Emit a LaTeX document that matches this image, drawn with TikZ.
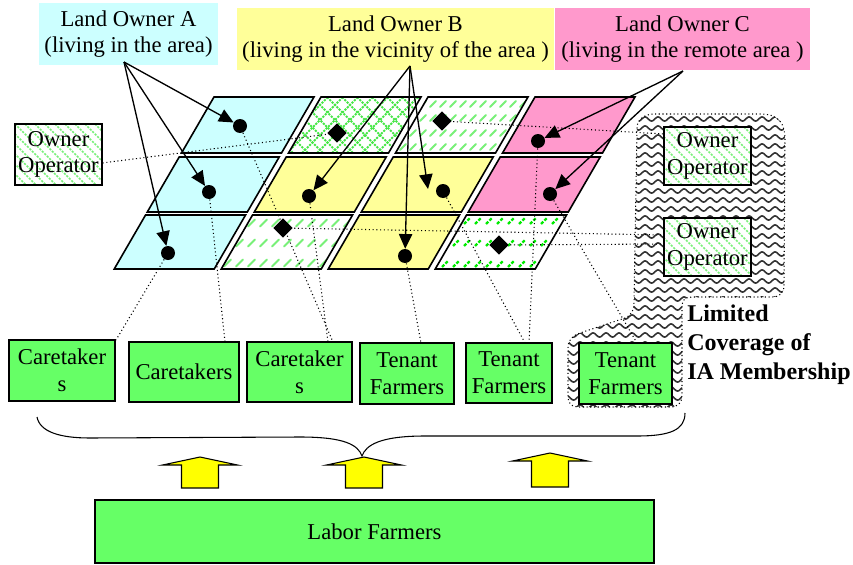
\documentclass[tikz,border=0pt]{standalone}
\usepackage{fontspec}
\setmainfont{Liberation Serif}
\usetikzlibrary{arrows.meta,decorations.pathmorphing,shapes.geometric}
\definecolor{cyanc}{HTML}{CCFFFF}
\definecolor{yelc}{HTML}{FFFF99}
\definecolor{pinkc}{HTML}{FF99CC}
\definecolor{greenc}{HTML}{66FF66}
\definecolor{arrowy}{HTML}{FFFF00}
\definecolor{hatchg}{RGB}{70,230,70}
\definecolor{hatchl}{RGB}{120,240,120}
\definecolor{hatchb}{RGB}{0,235,0}
\def\blobpath{(655,114) -- (760,114) .. controls (778,114) and (785,122) .. (785,140) -- (784,285) .. controls (784,293) and (780,297) .. (772,297) -- (692,297) .. controls (685,297) and (682,300) .. (682,307) -- (682,395) .. controls (682,403) and (678,407) .. (670,407) -- (578,407) .. controls (571,407) and (568,403) .. (568,396) -- (568,348) .. controls (568,340) and (572,336) .. (580,333) -- (625,318) .. controls (632,315) and (634,310) .. (634,302) -- (637,128) .. controls (637,119) and (645,114) .. (655,114) -- cycle}
\begin{document}
\begin{tikzpicture}[x=0.75pt,y=-0.75pt,
  ownlab/.style={inner sep=0pt, font=\fontsize{17}{20}\selectfont, align=center},
  gbox/.style={draw=black, line width=0.9pt, fill=greenc, inner sep=0pt, font=\fontsize{17}{20}\selectfont, align=center},
  hatch/.style={draw=hatchg, line width=1.4pt, dash pattern=on 1.6pt off 0.9pt},
  hatchs/.style={draw=hatchl, line width=1.5pt, line cap=round},
  oobox/.style={draw=black, line width=0.9pt, fill=white, inner sep=0pt, font=\fontsize{17}{20}\selectfont, align=center, minimum width=65.25pt, minimum height=43.5pt,
    path picture={\foreach \i in {-100,-90,...,100}{\draw[draw=hatchl, line width=1.3pt, dash pattern=on 1.6pt off 1pt] ([xshift={\i*0.75pt}]path picture bounding box.north west) -- ++(80,80);}}},
  cellline/.style={draw=black, line width=1.2pt},
  dotline/.style={draw=black, dotted, line width=0.8pt},
  arr/.style={draw=black, line width=1pt, -{Triangle[length=11pt,width=10pt]}},
  dotm/.style={circle, fill=black, inner sep=0pt, minimum size=10.5pt},
  diam/.style={diamond, aspect=1, fill=black, inner sep=0pt, minimum size=14.5pt},
  wave/.style={draw=black!80, line width=1.2pt, decorate, decoration={snake, segment length=9.75pt, amplitude=1.6pt}},
  yarrow/.style={draw=black, line width=0.8pt, fill=arrowy}
]
\useasboundingbox (0,0) rectangle (853,564);

% top labels
\node[ownlab, fill=cyanc, minimum width=134.25pt, minimum height=46.5pt] (LA) at (128.5,34) {Land Owner A\\(living in the area)};
\node[ownlab, fill=yelc, minimum width=237.75pt, minimum height=46.5pt] (LB) at (395.5,39) {Land Owner B\\(living in the vicinity of the area )};
\node[ownlab, fill=pinkc, minimum width=191.25pt, minimum height=46.5pt] (LC) at (682.5,39) {Land Owner C\\(living in the remote area )};

% wavy membership region
\begin{scope}
  \clip \blobpath;
  \foreach \y in {110,119,...,416} \draw[wave] (550,\y) -- (800,\y);
\end{scope}
\draw[dotline] \blobpath;

% cell corners
\foreach \r/\ty/\by in {0/97/153,1/157/212,2/215/269}{
  \foreach \c in {0,1,2,3}{
    \pgfmathsetmacro\tlx{214+107*\c-0.58*(\ty-97)}
    \pgfmathsetmacro\blx{214+107*\c-0.58*(\by-97)}
    \coordinate (tl\c\r) at (\tlx,\ty);
    \coordinate (tr\c\r) at (\tlx+100,\ty);
    \coordinate (br\c\r) at (\blx+100,\by);
    \coordinate (bl\c\r) at (\blx,\by);
  }
}
\foreach \c/\r/\col in {0/0/cyanc,1/0/white,2/0/white,3/0/pinkc,0/1/cyanc,1/1/yelc,2/1/yelc,3/1/pinkc,0/2/cyanc,1/2/white,2/2/yelc,3/2/white}
  \fill[\col] (tl\c\r) -- (tr\c\r) -- (br\c\r) -- (bl\c\r) -- cycle;

\begin{scope}
  \clip (tl10) -- (tr10) -- (br10) -- (bl10) -- cycle;
  \foreach \i in {200,215,...,470} {\draw[hatch] (\i,90) -- ++(75,75); \draw[hatch] (\i,90) -- ++(-75,75);}
\end{scope}
\begin{scope}
  \clip (tl20) -- (tr20) -- (br20) -- (bl20) -- cycle;
  \foreach \y in {104,118,133,147} \foreach \x in {380,390,...,540} \draw[hatchs] (\x,\y+3) -- ++(6,-6);
\end{scope}
\begin{scope}
  \clip (tl12) -- (tr12) -- (br12) -- (bl12) -- cycle;
  \foreach \y in {223,243,263} \foreach \x in {200,212,...,370} \draw[hatchs] (\x,\y+3.5) -- ++(7,-7);
\end{scope}
\begin{scope}
  \clip (tl32) -- (tr32) -- (br32) -- (bl32) -- cycle;
  \foreach \y in {221,243,264} \foreach \x in {420,431,...,580} \draw[draw=hatchb, line width=1.7pt, dash pattern=on 2.4pt off 1.2pt] (\x,\y+3) -- ++(6,-6);
\end{scope}

\foreach \c in {0,1,2,3} \foreach \r in {0,1,2}
  \draw[cellline] (tl\c\r) -- (tr\c\r) -- (br\c\r) -- (bl\c\r) -- cycle;

% markers
\node[dotm] (m00) at (240,126) {};
\node[dotm] (m10) at (209,192) {};
\node[dotm] (m20) at (168,253) {};
\node[dotm] (m11) at (309,196) {};
\node[dotm] (m12) at (443,191) {};
\node[dotm] (m22) at (405,256) {};
\node[dotm] (m03) at (538,141) {};
\node[dotm] (m13) at (550,194) {};
\node[diam] (k01) at (337,133) {};
\node[diam] (k02) at (442,121) {};
\node[diam] (k21) at (283,228) {};
\node[diam] (k23) at (499,245) {};

% connector end points
\coordinate (q1) at (102,163);
\coordinate (q2) at (664,134);
\coordinate (q3) at (664,235);
\coordinate (q4) at (664,244);
\coordinate (q5) at (116,340);
\coordinate (q6) at (225,342);
\coordinate (q7) at (333,342);
\coordinate (q8) at (328,342);
\coordinate (q9) at (421,343);
\coordinate (q10) at (525,343);
\coordinate (q11) at (529,343);
\coordinate (q12) at (637,343);

\draw[dotline] (k01.center) -- (q1);
\draw[dotline] (k02.center) -- (q2);
\draw[dotline] (k21.center) -- (q3);
\draw[dotline] (k23.center) -- (q4);
\draw[dotline] (m20.center) -- (q5);
\draw[dotline] (m10.center) -- (q6);
\draw[dotline] (m00.center) -- (q7);
\draw[dotline] (m11.center) -- (q8);
\draw[dotline] (m22.center) -- (q9);
\draw[dotline] (m12.center) -- (q10);
\draw[dotline] (m03.center) -- (q11);
\draw[dotline] (m13.center) -- (q12);

% owner operator boxes
\node[oobox, minimum height=45.75pt] (OOL) at (58.5,154.5) {Owner\\Operator};
\node[oobox] (OOR1) at (707.5,156) {Owner\\Operator};
\node[oobox] (OOR2) at (707.5,247) {Owner\\Operator};

% farmer boxes
\node[gbox, minimum width=79.5pt, minimum height=45.75pt] (b1) at (62,370.5) {Caretaker\\s};
\node[gbox, minimum width=82.5pt, minimum height=45pt] (b2) at (184,372) {Caretakers};
\node[gbox, minimum width=78.75pt, minimum height=45pt] (b3) at (299.5,372) {Caretaker\\s};
\node[gbox, minimum width=70.5pt, minimum height=45.75pt] (b4) at (407,373.5) {Tenant\\Farmers};
\node[gbox, minimum width=64.5pt, minimum height=45pt] (b5) at (509,373) {Tenant\\Farmers};
\node[gbox, minimum width=69.75pt, minimum height=45.75pt] (b6) at (625.5,373.5) {Tenant\\Farmers};
\node[gbox, minimum width=419.25pt, minimum height=47.25pt] (LF) at (374.5,531.5) {Labor Farmers};

\node[inner sep=0pt, anchor=north west, align=left, font=\bfseries\fontsize{18}{21.75}\selectfont] (lim) at (687,305) {Limited\\Coverage of\\IA Membership};

% owner arrows
\coordinate (aA) at (124,62);
\coordinate (aB) at (410,66);
\coordinate (aC) at (683,71);
\coordinate (eB2) at (428,189);
\draw[arr] (aA) -- (m00);
\draw[arr] (aA) -- (m10);
\draw[arr] (aA) -- (m20);
\draw[arr] (aB) -- (m11);
\draw[arr] (aB) -- (eB2);
\draw[arr] (aB) -- (m22);
\draw[arr] (aC) -- (m03);
\draw[arr] (aC) -- (m13);

% brace
\draw[line width=0.8pt] (37,417) .. controls (40,432) and (60,438) .. (90,438) -- (300,437) .. controls (345,437) and (358,445) .. (362,456) .. controls (366,445) and (380,436) .. (425,436) -- (637,436) .. controls (670,436) and (685,430) .. (685,413);

% block arrows
\foreach \cx/\ty/\sh in {200/457/23, 364/457/23, 550/453/26}
  \draw[yarrow] (\cx,\ty) -- ++(37.5,8) -- ++(-19,0) -- ++(0,\sh) -- ++(-37,0) -- ++(0,-\sh) -- ++(-19,0) -- cycle;
\end{tikzpicture}
\end{document}
